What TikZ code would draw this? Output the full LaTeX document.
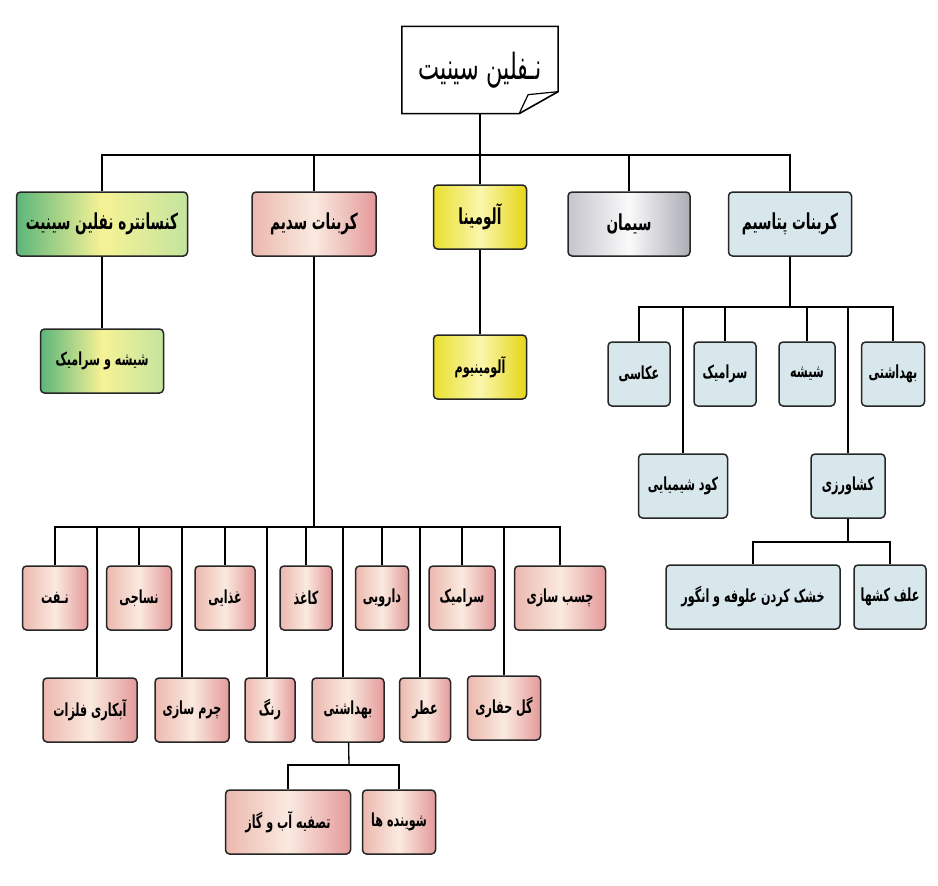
\documentclass[tikz,border=0pt]{standalone}
\usepackage{fontspec}
\newfontfamily\fafont[Script=Arabic,FakeStretch=0.62]{DejaVu Sans}
\TeXXeTstate=1
\newcommand\fa[1]{\beginR#1\endR}
\definecolor{pinkA}{RGB}{236,184,174}
\definecolor{pinkB}{RGB}{250,234,224}
\definecolor{pinkC}{RGB}{228,154,154}
\definecolor{greenA}{RGB}{92,182,122}
\definecolor{greenB}{RGB}{246,242,150}
\definecolor{greenC}{RGB}{196,228,158}
\definecolor{yelA}{RGB}{234,224,48}
\definecolor{yelB}{RGB}{250,246,172}
\definecolor{yelC}{RGB}{230,214,22}
\definecolor{silA}{RGB}{196,196,204}
\definecolor{silB}{RGB}{250,250,250}
\definecolor{silC}{RGB}{172,172,182}
\definecolor{iceA}{RGB}{216,231,236}
\tikzset{
  box/.style={draw=black!85,line width=1.5pt,rounded corners=4pt,minimum height=64,inner sep=1pt,
    font=\fafont\bfseries\fontsize{18}{20}\selectfont},
  pinkbox/.style={box,left color=pinkA,right color=pinkC,middle color=pinkB},
  greenbox/.style={box,left color=greenA,right color=greenC,middle color=greenB},
  yelbox/.style={box,left color=yelA,right color=yelC,middle color=yelB},
  silbox/.style={box,left color=silA,right color=silC,middle color=silB},
  icebox/.style={box,fill=iceA},
  big/.style={font=\fafont\bfseries\fontsize{22}{24}\selectfont},
  tree/.style={line width=1.3pt,to path={|- (\tikztotarget)}},
}
\begin{document}
\begin{tikzpicture}[x=1pt,y=-1pt,line width=1.3pt]
	\useasboundingbox (0,0) rectangle (938,886);
	% bus points
	\coordinate (top) at (480,155);
	\coordinate (sbus) at (314,527);
	\coordinate (pbus) at (790,307);
	\coordinate (kbus) at (848,542);
	\coordinate (hbus) at (349,765);
	% root with folded corner
	\node [minimum width=155,minimum height=86,font=\fafont\fontsize{36}{40}\selectfont] at (480,70) (root) {\fa{نـفلین سینیت}};
	\draw [line width=1.6pt] (root.north west) -- (root.north east) -- ([yshift=22]root.south east) -- ([xshift=-39]root.south east) -- (root.south west) -- cycle;
	\draw [line width=1.2pt] ([yshift=22]root.south east) -- ([xshift=-30,yshift=19]root.south east) -- ([xshift=-39]root.south east);
	\draw (root) -- (top);
	% first level
	\node [greenbox,big,minimum width=171] at (102,224) (kns) {\fa{کنسانتره نفلین سینیت}} edge [tree] (top);
	\node [pinkbox,big,minimum width=124] at (314,224) (sod) {\fa{کربنات سدیم}} edge [tree] (top);
	\node [yelbox,big,minimum width=93] at (480,217) (alu) {\fa{آلومینا}} edge [tree] (top);
	\node [silbox,big,minimum width=122] at (629,224) (sim) {\fa{سیمان}} edge [tree] (top);
	\node [icebox,big,minimum width=123] at (790,224) (pot) {\fa{کربنات پتاسیم}} edge [tree] (top);
	\node [greenbox,minimum width=123] at (102,361) (gls) {\fa{شیشه و سرامیک}} edge (kns);
	\node [yelbox,minimum width=93] at (480,367) (alm) {\fa{آلومینیوم}} edge (alu);
	% potassium carbonate
	\draw (pot) -- (pbus);
	\node [icebox,minimum width=62] at (639,374) (aks) {\fa{عکاسی}} edge [tree] (pbus);
	\node [icebox,minimum width=62] at (725,374) (srk) {\fa{سرامیک}} edge [tree] (pbus);
	\node [icebox,minimum width=56] at (807,374) (shs) {\fa{شیشه}} edge [tree] (pbus);
	\node [icebox,minimum width=63] at (893,374) (bhd) {\fa{بهداشتی}} edge [tree] (pbus);
	\node [icebox,minimum width=89] at (683,486) (kod) {\fa{کود شیمیایی}} edge [tree] (pbus);
	\node [icebox,minimum width=74] at (848,486) (ksh) {\fa{کشاورزی}} edge [tree] (pbus);
	\draw (ksh) -- (kbus);
	\node [icebox,minimum width=174] at (753,597) (khs) {\fa{خشک کردن علوفه و انگور}} edge [tree] (kbus);
	\node [icebox,minimum width=72] at (890,597) (alf) {\fa{علف کشها}} edge [tree] (kbus);
	% sodium carbonate
	\draw (sod) -- (sbus);
	\node [pinkbox,minimum width=65] at (55,598) (nft) {\fa{نـفت}} edge [tree] (sbus);
	\node [pinkbox,minimum width=65] at (139,598) (nsj) {\fa{نساجی}} edge [tree] (sbus);
	\node [pinkbox,minimum width=60] at (225,598) (gdh) {\fa{غذایی}} edge [tree] (sbus);
	\node [pinkbox,minimum width=52] at (306,598) (kgh) {\fa{کاغذ}} edge [tree] (sbus);
	\node [pinkbox,minimum width=53] at (382,598) (drw) {\fa{دارویی}} edge [tree] (sbus);
	\node [pinkbox,minimum width=66] at (462,598) (sr2) {\fa{سرامیک}} edge [tree] (sbus);
	\node [pinkbox,minimum width=91] at (560,598) (chs) {\fa{چسب سازی}} edge [tree] (sbus);
	\node [pinkbox,minimum width=94] at (90,710) (abk) {\fa{آبکاری فلزات}};
	\node [pinkbox,minimum width=74] at (192,710) (chr) {\fa{چرم سازی}};
	\node [pinkbox,minimum width=50] at (270,710) (rng) {\fa{رنگ}};
	\node [pinkbox,minimum width=72] at (348,710) (bh2) {\fa{بهداشتی}};
	\node [pinkbox,minimum width=51] at (425,710) (atr) {\fa{عطر}};
	\node [pinkbox,minimum width=73] at (504,708) (gol) {\fa{گل حفاری}} edge [tree] (sbus);
	\draw ([xshift=7]abk.north) |- (sbus);
	\draw ([xshift=-10]chr.north) |- (sbus);
	\draw ([xshift=-3]rng.north) |- (sbus);
	\draw ([xshift=-5]bh2.north) |- (sbus);
	\draw ([xshift=-5]atr.north) |- (sbus);
	\draw (bh2) -- (hbus);
	\node [pinkbox,minimum width=125] at (288,822) (tsf) {\fa{تصفیه آب و گاز}} edge [tree] (hbus);
	\node [pinkbox,minimum width=73] at (399,822) (shv) {\fa{شوینده ها}} edge [tree] (hbus);
\end{tikzpicture}
\end{document}
